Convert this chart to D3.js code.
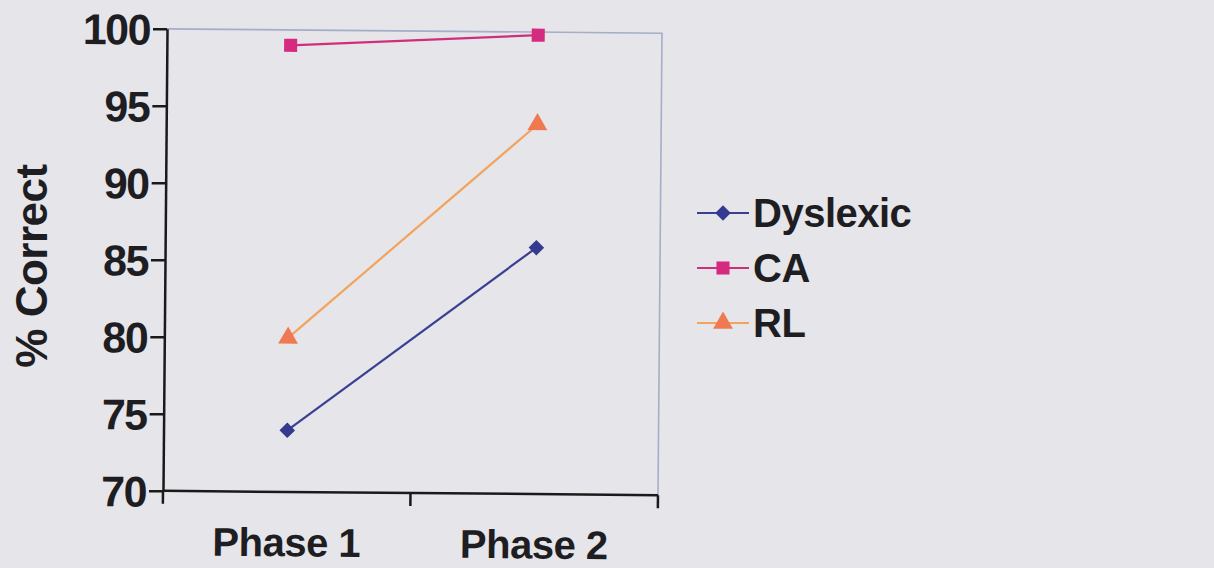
<!DOCTYPE html>
<html>
<head>
<meta charset="utf-8">
<script src="https://cdn.jsdelivr.net/npm/d3@7"></script>
<style>
  html, body { margin: 0; padding: 0; background: #e5e5ea; }
  svg { display: block; }
  text { font-family: "Liberation Sans", Arial, sans-serif; font-weight: bold; fill: #1e1e22; }
</style>
</head>
<body>
<svg id="chart" width="1214" height="568"></svg>
<script>
// Percentage correct per group across the two phases
const phases = ["Phase 1", "Phase 2"];
const dyslexic = [74, 86];
const ca = [99, 99.8];
const rl = [80, 94];
const yTicks = [70, 75, 80, 85, 90, 95, 100];
const seriesNames = ["Dyslexic", "CA", "RL"];

const series = [
  { name: seriesNames[0], values: dyslexic, line: "#3b3f92", fill: "#333a8f", shape: "diamond" },
  { name: seriesNames[1], values: ca, line: "#d02e7c", fill: "#d52a80", shape: "square" },
  { name: seriesNames[2], values: rl, line: "#f2a35e", fill: "#ef7a52", shape: "triangle" }
];

const svg = d3.select("#chart");
const plot = { left: 165, right: 660, top: 31, bottom: 493 };
const cx = (plot.left + plot.right) / 2, cy = (plot.top + plot.bottom) / 2;

const x = d3.scaleBand().domain(phases).range([plot.left, plot.right]);
const y = d3.scaleLinear().domain([70, 100]).range([plot.bottom, plot.top]);

const g = svg.append("g").attr("transform", `rotate(0.5 ${cx} ${cy})`);

// top and right frame of the plot area
g.append("path")
  .attr("d", `M${plot.left},${y(100)}H${plot.right}V${y(70)}`)
  .attr("fill", "none").attr("stroke", "#a6adc6").attr("stroke-width", 1.6);

// y axis
const yAxis = g.append("g").attr("transform", `translate(${plot.left},0)`)
  .call(d3.axisLeft(y).tickValues(yTicks).tickSize(14).tickPadding(3).tickSizeOuter(0));
yAxis.select(".domain").attr("stroke", "#1a1a1a").attr("stroke-width", 2.5);
yAxis.selectAll(".tick line").attr("stroke", "#1a1a1a").attr("stroke-width", 2.5);
yAxis.selectAll(".tick text").attr("font-size", 43).attr("letter-spacing", -1.5)
  .attr("dy", "0.36em").attr("fill", "#1e1e22");

// x axis: labels centred on each band, ticks on band boundaries
const xAxis = g.append("g").attr("transform", `translate(0,${plot.bottom})`)
  .call(d3.axisBottom(x).tickSize(0).tickPadding(36).tickSizeOuter(0));
xAxis.select(".domain").attr("stroke", "#1a1a1a").attr("stroke-width", 2.5)
  .attr("d", `M${plot.left},0H${plot.right}`);
xAxis.selectAll(".tick text").attr("font-size", 40).attr("letter-spacing", -0.5).attr("fill", "#1e1e22");
const bounds = phases.map(p => x(p)).concat([x(phases[phases.length - 1]) + x.bandwidth()]);
xAxis.selectAll("line.bound").data(bounds).join("line").attr("class", "bound")
  .attr("x1", d => d).attr("x2", d => d).attr("y1", 0).attr("y2", 13)
  .attr("stroke", "#1a1a1a").attr("stroke-width", 2.5);

// y axis title
svg.append("text")
  .attr("transform", `translate(47,${cy + 4}) rotate(-90)`)
  .attr("text-anchor", "middle").attr("font-size", 44).attr("letter-spacing", -0.5)
  .text("% Correct");

const symbolOf = {
  diamond: d3.symbol().type(d3.symbolSquare).size(120),
  square: d3.symbol().type(d3.symbolSquare).size(170),
  triangle: d3.symbol().type(d3.symbolTriangle).size(170)
};
const markerRotation = { diamond: 45, square: 0, triangle: 0 };

const line = d3.line().x((d, i) => x(phases[i]) + x.bandwidth() / 2).y(d => y(d));

series.forEach(s => {
  g.append("path").datum(s.values).attr("d", line)
    .attr("fill", "none").attr("stroke", s.line).attr("stroke-width", 2.2);
  g.selectAll(null).data(s.values).join("path")
    .attr("transform", (d, i) => `translate(${x(phases[i]) + x.bandwidth() / 2},${y(d)}) rotate(${markerRotation[s.shape]})`)
    .attr("d", symbolOf[s.shape]).attr("fill", s.fill);
});

// legend
const legend = svg.append("g").attr("transform", "translate(697,213)");
series.forEach((s, i) => {
  const row = legend.append("g").attr("transform", `translate(0,${i * 55})`);
  row.append("line").attr("x1", 0).attr("x2", 52).attr("stroke", s.line).attr("stroke-width", 2.2);
  row.append("path").attr("transform", `translate(26,0) rotate(${markerRotation[s.shape]})`)
    .attr("d", symbolOf[s.shape]).attr("fill", s.fill);
  row.append("text").attr("x", 56).attr("dy", "0.36em").attr("font-size", 40).attr("letter-spacing", -0.5).text(s.name);
});
</script>
</body>
</html>
